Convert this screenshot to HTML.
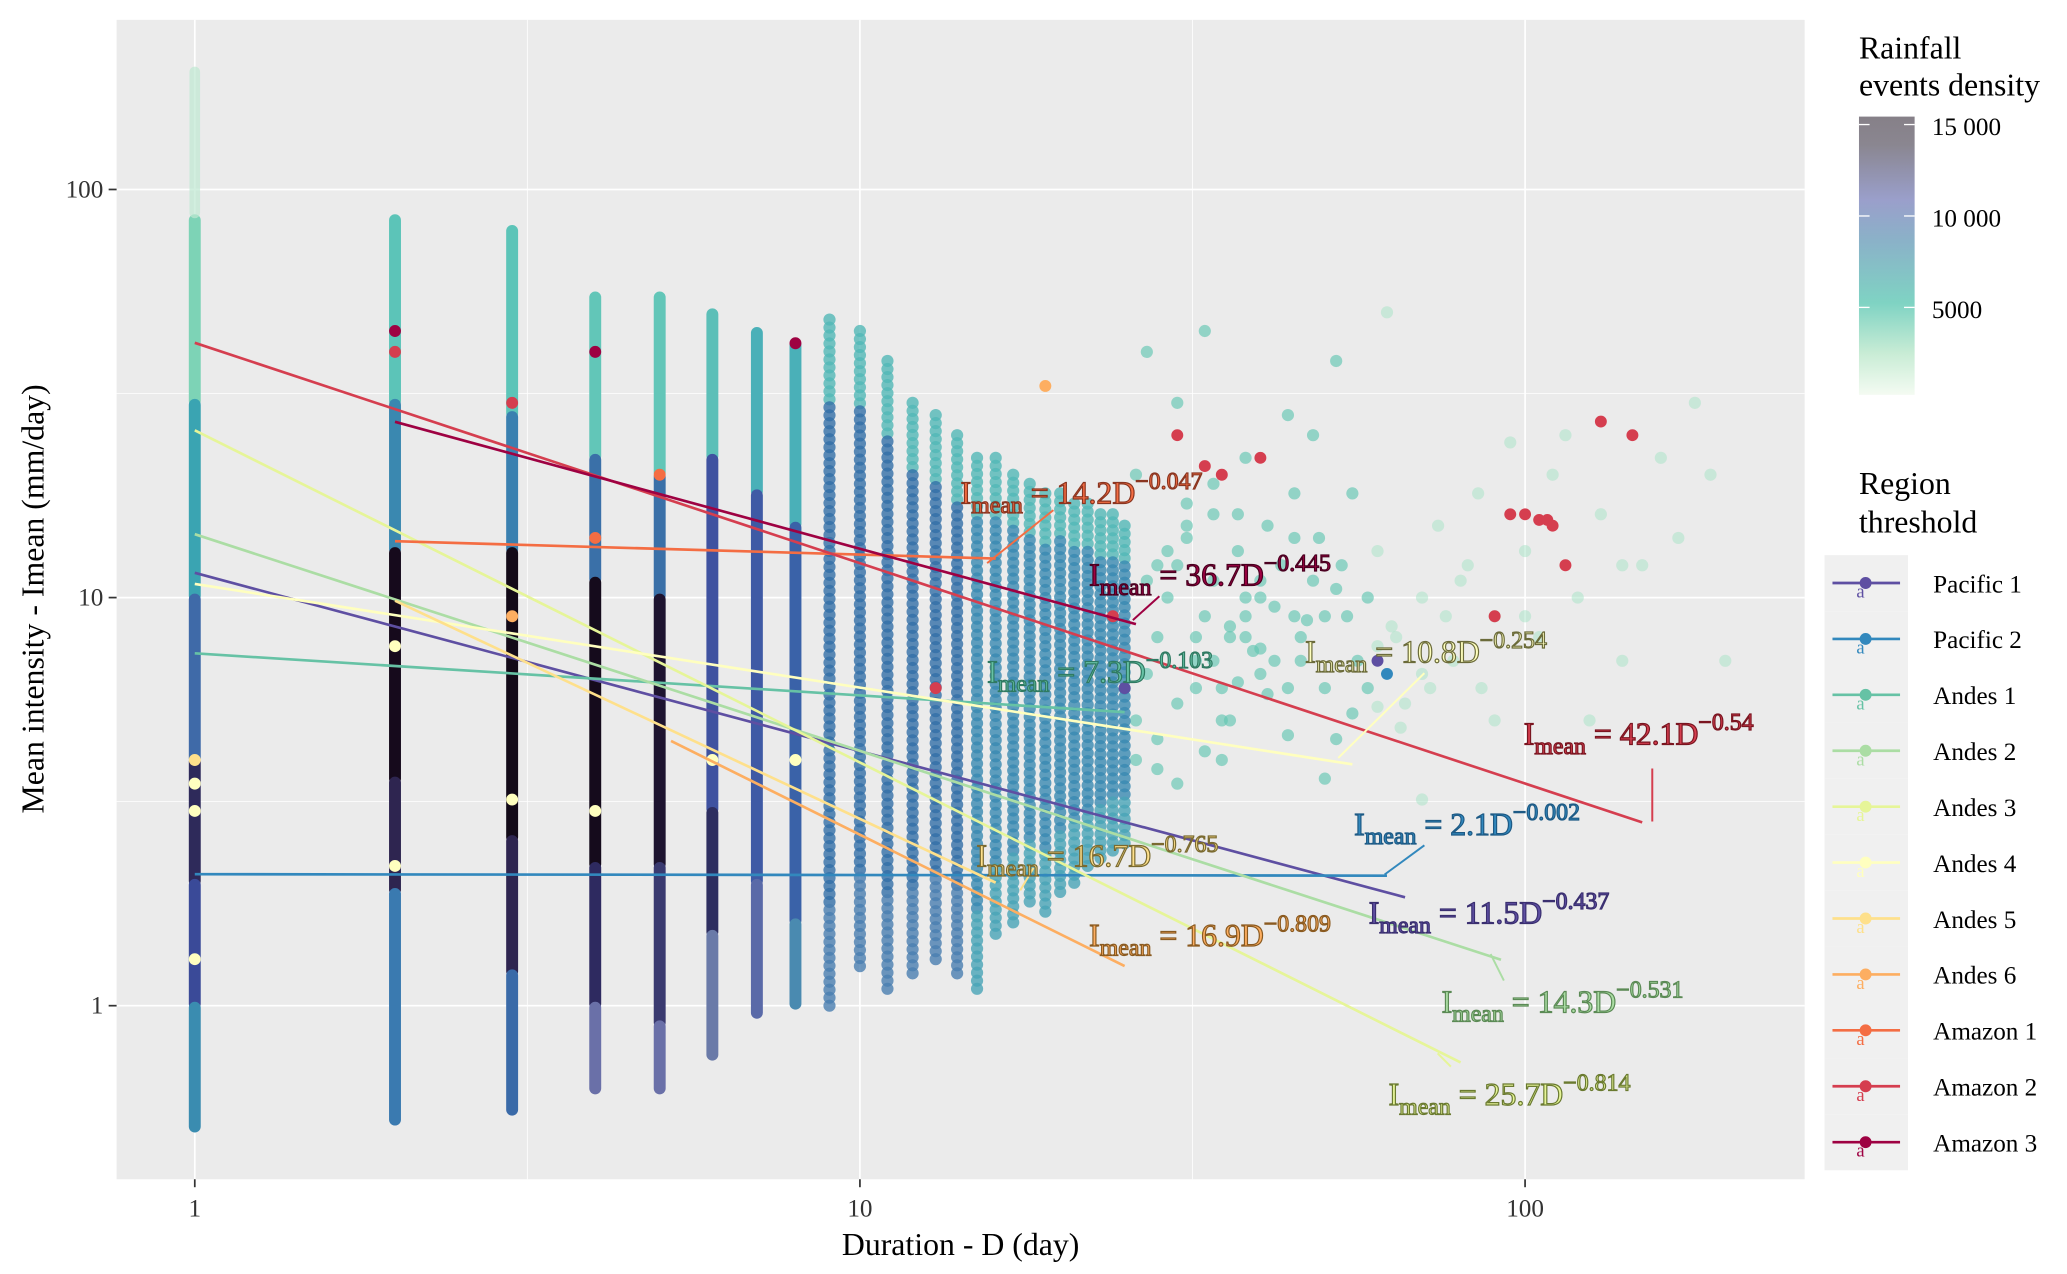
<!DOCTYPE html>
<html><head><meta charset="utf-8">
<style>
html,body{margin:0;padding:0;background:#fff;}
svg{display:block;font-family:"Liberation Serif",serif;}
.lbl{font-size:24px;stroke-width:0.9px;}
</style></head>
<body>
<svg id="chart" width="2067" height="1274" viewBox="0 0 1560 961.5" preserveAspectRatio="none" xmlns="http://www.w3.org/2000/svg">
<defs>
<linearGradient id="colbar" x1="0" y1="1" x2="0" y2="0">
<stop offset="0" stop-color="#f4fbf2"/><stop offset="0.15" stop-color="#c8ecd5"/><stop offset="0.33" stop-color="#7fd3c3"/><stop offset="0.55" stop-color="#8ab2c8"/><stop offset="0.7" stop-color="#9a9fcb"/><stop offset="0.9" stop-color="#8a8690"/><stop offset="1" stop-color="#868088"/>
</linearGradient>
</defs>
<rect x="88" y="15" width="1274" height="875" fill="#ebebeb"/>
<g id="grid"></g>
<g id="points"></g>
<g id="fits"></g>
<g id="labels"></g>
<g id="axes"></g>
<text x="725" y="947" font-size="24" text-anchor="middle">Duration - D (day)</text>
<text transform="translate(33,452) rotate(-90)" font-size="24" text-anchor="middle">Mean intensity - Imean (mm/day)</text>
<g>
<text x="1403" y="44" font-size="24">Rainfall</text>
<text x="1403" y="72" font-size="24">events density</text>
<rect x="1403" y="88" width="42" height="210" fill="url(#colbar)"/>
<g stroke="#fff" stroke-width="1">
<line x1="1403" y1="94" x2="1411" y2="94"/><line x1="1437" y1="94" x2="1445" y2="94"/>
<line x1="1403" y1="163" x2="1411" y2="163"/><line x1="1437" y1="163" x2="1445" y2="163"/>
<line x1="1403" y1="232" x2="1411" y2="232"/><line x1="1437" y1="232" x2="1445" y2="232"/>
</g>
<text x="1458" y="102" font-size="19">15 000</text>
<text x="1458" y="171" font-size="19">10 000</text>
<text x="1458" y="240" font-size="19">5000</text>
</g>
<g id="legend">
<text x="1403" y="373" font-size="24">Region</text>
<text x="1403" y="402" font-size="24">threshold</text>
</g>
</svg>
<script>
const decadesX=[1,10,100];
const decadesY=[1,10,100];
const regions=["Pacific 1","Pacific 2","Andes 1","Andes 2","Andes 3","Andes 4","Andes 5","Andes 6","Amazon 1","Amazon 2","Amazon 3"];
const regionColors=["#5e4fa2","#3288bd","#66c2a5","#abdda4","#e6f598","#ffffbf","#fee08b","#fdae61","#f46d43","#d53e4f","#9e0142"];
const fitA=[11.5,2.1,7.3,14.3,25.7,10.8,16.7,16.9,14.2,42.1,36.7];
const fitB=[-0.437,-0.002,-0.103,-0.531,-0.814,-0.254,-0.765,-0.809,-0.047,-0.54,-0.445];
const fitStart=[1,1,1,1,1,1,2,5.2,2,1,2];
const fitEnd=[66,62,25,92,80,55,16,25,16,150,26];
const segD=[1,1,1,1,1,1, 2,2,2,2,2, 3,3,3,3,3, 4,4,4,4,4, 5,5,5,5,5, 6,6,6,6, 7,7,7, 8,8,8];
const segHi=[85,30,10,4,2,1, 85,30,13,3.56,1.9, 80,28,13,2.56,1.2, 55,22,11,2.2,1, 55,20,10,2.2,0.9, 50,22,3,1.5, 45,18,2, 42,15,1.6];
const segLo=[30,10,4,2,1,0.5, 30,13,3.56,1.9,0.52, 28,13,2.56,1.2,0.55, 22,11,2.2,1,0.62, 20,10,2.2,0.9,0.62, 22,3,1.5,0.75, 18,2,0.95, 15,1.6,1.0];
const segC=["#7dd3b6","#3aa4b2","#3f6aa8","#2e2a5a","#3a4a98","#3a8cb0", "#5cc4b8","#3a88b0","#160a1c","#2e2550","#3a7ab0", "#5cc4b8","#3a80b0","#130a18","#2e2550","#3a6aa8", "#62c6b8","#3a70a8","#150b1c","#2e2a60","#6a70a8", "#62c6b8","#3a70a8","#1e1430","#3a3a70","#6a70a8", "#5cbfb8","#3f52a0","#2e2e60","#6a7aa8", "#4ab0b8","#3f5aa5","#5a6aa8", "#4ab0b8","#3a62a8","#4a8ab0"];
const dotDur=[9,10,11,12,13,14,15,16,17,18,19,20,21,22,23,24,25];
const dotLow=[1.0,1.25,1.1,1.2,1.3,1.2,1.1,1.5,1.6,1.8,1.7,1.9,2.0,2.2,2.3,2.4,2.5];
const dotHigh=[48,45,38,30,28,25,22,22,20,19,18,18,17,17,16,16,15];
const cloudD=[26,28,30,32,34,36,38,40,42,45,48,50,52,55,58,60,63,66,70,74,78,82,86,90,95,100,105,110,120,130,140,150,170,190,30,35,40,45,50,55,60,65,70,80,90,27,33,38,44,52,62,72,85,100,115,125,140,160,180,200,
 26,27,28,29,30,31,32,33,34,35,36,37,38,40,42,44,46,48,26,28,30,32,34,36,38,40,43,46,50,54,27,29,31,33,35,37,39,41,44,47,52,56,60,28,31,34,37,41,45,49,53,58,64,70,76];
const cloudI=[20,12,30,8,16,5,22,11,7,14,25,9,4.5,18,6,13,8.5,5.5,10,15,7,12,6,9,24,13,8,20,10,16,7,12,14,20,3.5,4,6.5,9,3.6,5.2,7.6,4.8,3.2,11,5,40,45,8,28,38,50,6,18,9,25,5,12,22,30,7,
 5,6.5,8,10,12,14,7,9,11,6,8,13,10,7.5,9.5,6,8,11,4,4.5,5.5,6,7,8.5,9,10,12,7,6,9,11,13,15,4.2,5,6.2,7.4,5.8,4.6,8.8,10.5,7,5.4,3.8,17,19,16,15,18,14,12,10,8,6.5,9];
const hiD=[1,1,1,1,2,2,2,3,3,4,4,5,6,8,2,3,4,8,13,19,24,25,30,35,60,62,95,100,105,108,110,130,145,90,115,40,33];
const hiI=[3,3.5,4,1.3,2.2,7.6,40,9,3.2,3,40,20,4,42,45,30,14,4,6,33,9,6,25,20,7,6.5,16,16,15.5,15.5,15,27,25,9,12,22,21];
const hiC=["#ffffbf","#ffffbf","#fee08b","#ffffbf","#ffffbf","#ffffbf","#d53e4f","#fdae61","#ffffbf","#ffffbf","#9e0142","#f46d43","#ffffbf","#9e0142","#9e0142","#d53e4f","#f46d43","#ffffbf","#d53e4f","#fdae61","#d53e4f","#5e4fa2","#d53e4f","#d53e4f","#5e4fa2","#3288bd","#d53e4f","#d53e4f","#d53e4f","#d53e4f","#d53e4f","#d53e4f","#d53e4f","#d53e4f","#d53e4f","#d53e4f","#d53e4f"];
const labelText=["11.5D","2.1D","7.3D","14.3D","25.7D","10.8D","16.7D","16.9D","14.2D","42.1D","36.7D"];
const labelPos=[[1033,697],[1022,630],[745,515],[1088,764],[1048,834],[985,500],[737,654],[822,714],[725,380],[1150,562],[822,442]];
const leaderEnd=[[1060,677],[1045,660],[790,500],[1125,720],[1085,795],[1010,572],[770,672],[848,728],[745,425],[1247,620],[855,468]];
const leaderStart=[[1060,677],[1075,638],[790,500],[1135,740],[1095,805],[1075,508],[780,655],[848,728],[795,385],[1247,580],[875,450]];

const NS="http://www.w3.org/2000/svg";
const X0=88,X1=1362,Y0=15,Y1=890;
function xS(d){return 147+502*Math.log10(d);}
function yS(v){return 759-308*Math.log10(v);}
function mk(tag,attrs,parent){const e=document.createElementNS(NS,tag);for(const k in attrs)e.setAttribute(k,attrs[k]);parent.appendChild(e);return e;}

const grid=document.getElementById('grid');
decadesX.forEach(d=>{
  const minor=mk('line',{x1:xS(d*Math.sqrt(10)),x2:xS(d*Math.sqrt(10)),y1:Y0,y2:Y1,stroke:'#fff','stroke-width':0.6},grid);
  
  
  const l=mk('line',{x1:xS(d),x2:xS(d),y1:Y0,y2:Y1,stroke:'#fff','stroke-width':1.3},grid);
  
  
});
[0.1].concat(decadesY).forEach(v=>{
  const ym=yS(v*Math.sqrt(10));
  if(ym>Y0&&ym<Y1){const minor=mk('line',{x1:X0,x2:X1,y1:ym,y2:ym,stroke:'#fff','stroke-width':0.6},grid);
  
  }
});
decadesY.forEach(v=>{
  const l=mk('line',{x1:X0,x2:X1,y1:yS(v),y2:yS(v),stroke:'#fff','stroke-width':1.3},grid);
  
  
});

const pts=document.getElementById('points');
cloudD.forEach((d,i)=>{
  const c=mk('circle',{cx:xS(d),cy:yS(cloudI[i]),r:4.6,fill:d<60?'#62c6b2':'#a6e3c6','fill-opacity':d<60?0.65:0.5},pts);
  
  
});
dotDur.forEach((d,i)=>{
  const ya=yS(dotHigh[i]),yb=yS(dotLow[i]);
  const n=Math.floor((yb-ya)/6);
  for(let k=0;k<=n;k++){
    const y=ya+k*(yb-ya)/Math.max(n,1);
    const t=k/Math.max(n,1);
    let col;
    if(t<0.12) col='#52b8b6';
    else if(t<0.85) col=d<15?'#336fa8':'#3a8ab2';
    else col=d<15?'#4a7eb0':'#48a4b6';
    const c=mk('circle',{cx:xS(d),cy:y,r:4.6,fill:col,'fill-opacity':0.8},pts);
    
    
  }
});
segD.forEach((d,i)=>{
  const ya=yS(segHi[i]),yb=yS(segLo[i]);
  const r=mk('rect',{x:xS(d)-4.5,y:ya-3,width:9,height:yb-ya+6,rx:4.5,fill:segC[i]},pts);
  
  
});
const faint=mk('rect',{x:xS(1)-4,y:yS(200),width:8,height:yS(85)-yS(200),rx:4,fill:'#bfe8d2','fill-opacity':0.7},pts);


hiD.forEach((d,i)=>{
  const c=mk('circle',{cx:xS(d),cy:yS(hiI[i]),r:4.5,fill:hiC[i]},pts);
  
  
});

const fits=document.getElementById('fits');
const labs=document.getElementById('labels');
regions.forEach((r,i)=>{
  const f=d=>fitA[i]*Math.pow(d,fitB[i]);
  const l=mk('line',{x1:xS(fitStart[i]),y1:yS(f(fitStart[i])),x2:xS(fitEnd[i]),y2:yS(f(fitEnd[i])),stroke:regionColors[i],'stroke-width':2},fits);
  
  
  const ld=mk('line',{x1:leaderStart[i][0],y1:leaderStart[i][1],x2:leaderEnd[i][0],y2:leaderEnd[i][1],stroke:regionColors[i],'stroke-width':1.5},labs);
  
  
  const dark=['#3a2f70','#1d5a85','#2f7a62','#5b8a55','#6a7a30','#6b6b3a','#7a6a30','#8a5a20','#8a3520','#7a1520','#4a0020'][i];
  const t=mk('text',{x:labelPos[i][0],y:labelPos[i][1],fill:regionColors[i],stroke:dark,class:'lbl'},labs);
  
  
  const s1=document.createElementNS(NS,'tspan');s1.textContent='I';t.appendChild(s1);
  const s2=document.createElementNS(NS,'tspan');s2.setAttribute('dy','7');s2.setAttribute('font-size','18');s2.textContent='mean';t.appendChild(s2);
  const s3=document.createElementNS(NS,'tspan');s3.setAttribute('dy','-7');s3.textContent=' = '+labelText[i];t.appendChild(s3);
  const s4=document.createElementNS(NS,'tspan');s4.setAttribute('dy','-11');s4.setAttribute('font-size','18');s4.textContent='\u2212'+String(-fitB[i]);t.appendChild(s4);
});

const axes=document.getElementById('axes');
decadesX.forEach(d=>{
  const tk=mk('line',{x1:xS(d),x2:xS(d),y1:Y1,y2:Y1+6,stroke:'#333','stroke-width':1.3},axes);
  
  
  const t=mk('text',{x:xS(d),y:Y1+28,'font-size':19,'text-anchor':'middle',fill:'#333'},axes);
  
  
  t.textContent=String(d);
});
decadesY.forEach(v=>{
  const tk=mk('line',{x1:X0-6,x2:X0,y1:yS(v),y2:yS(v),stroke:'#333','stroke-width':1.3},axes);
  
  
  const t=mk('text',{x:X0-10,y:yS(v)+6,'font-size':19,'text-anchor':'end',fill:'#333'},axes);
  
  
  t.textContent=String(v);
});

const leg=document.getElementById('legend');
regions.forEach((r,i)=>{
  const cy=440+i*42.2;
  const bg=mk('rect',{x:1377,y:cy-21,width:63,height:42.2,fill:'#f0f0f0'},leg);
  
  
  const l=mk('line',{x1:1383,x2:1434,y1:cy,y2:cy,stroke:regionColors[i],'stroke-width':2},leg);
  
  
  const c=mk('circle',{cx:1408,cy:cy,r:4.5,fill:regionColors[i]},leg);
  
  
  const a=mk('text',{x:1401,y:cy+11,'font-size':14,fill:regionColors[i]},leg);
  
  
  a.textContent='a';
  const t=mk('text',{x:1459,y:cy+7,'font-size':19},leg);
  
  
  t.textContent=r;
});
</script>
</body></html>
